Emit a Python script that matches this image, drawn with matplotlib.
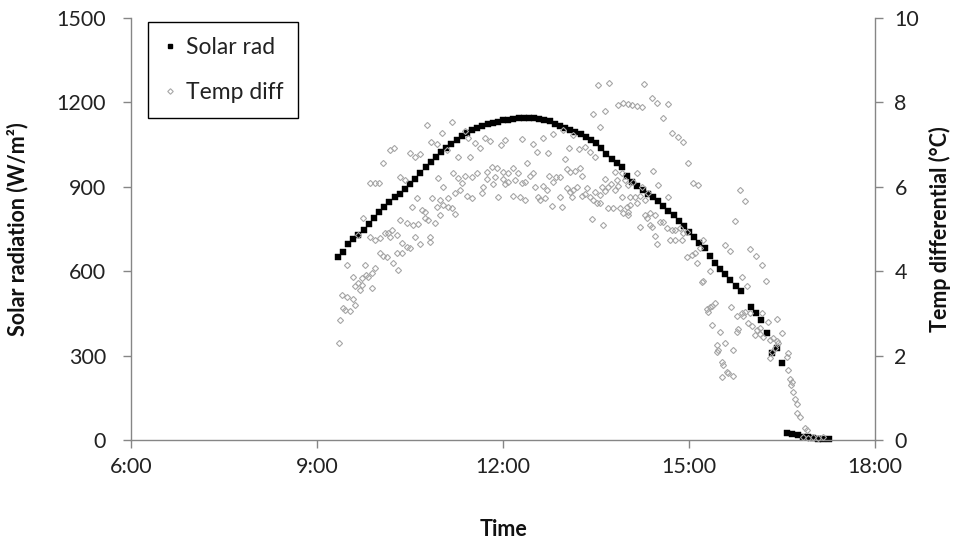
import matplotlib
matplotlib.use("Agg")
import matplotlib.pyplot as plt
from matplotlib.lines import Line2D

plt.rcParams['font.family'] = ['Lato', 'DejaVu Sans']

# ---------------- data ----------------
x_ticks = [6, 9, 12, 15, 18]
x_tick_labels = ["6:00", "9:00", "12:00", "15:00", "18:00"]
left_ticks = [0, 300, 600, 900, 1200, 1500]
right_ticks = [0, 2, 4, 6, 8, 10]

solar_time = ["9:20", "9:25", "9:30", "9:35", "9:40", "9:45", "9:50", "9:55",
              "10:00", "10:05", "10:10", "10:15", "10:20", "10:25", "10:30", "10:35",
              "10:40", "10:45", "10:50", "10:55", "11:00", "11:05", "11:10", "11:15",
              "11:20", "11:25", "11:30", "11:35", "11:40", "11:45", "11:50", "11:55",
              "12:00", "12:05", "12:10", "12:15", "12:20", "12:25", "12:30", "12:35",
              "12:40", "12:45", "12:50", "12:55", "13:00", "13:05", "13:10", "13:15",
              "13:20", "13:25", "13:30", "13:35", "13:40", "13:45", "13:50", "13:55",
              "14:00", "14:05", "14:10", "14:15", "14:20", "14:25", "14:30", "14:35",
              "14:40", "14:45", "14:50", "14:55", "15:00", "15:05", "15:10", "15:15",
              "15:20", "15:25", "15:30", "15:35", "15:40", "15:45", "15:50",
              "16:00", "16:05", "16:10", "16:15", "16:20", "16:25", "16:30",
              "16:35", "16:40", "16:45", "16:50", "16:55", "17:00", "17:05", "17:10", "17:15"]
solar_rad = [650, 670, 695, 715, 730, 745, 768, 790,
             810, 828, 845, 862, 876, 893, 910, 928,
             950, 970, 988, 1005, 1022, 1037, 1052, 1068,
             1080, 1092, 1103, 1110, 1117, 1123, 1128, 1132,
             1136, 1139, 1142, 1144, 1145, 1145, 1144, 1142,
             1139, 1133, 1125, 1116, 1110, 1103, 1095, 1087,
             1078, 1066, 1054, 1038, 1018, 1000, 986, 970,
             940, 917, 903, 889, 875, 862, 848, 832,
             815, 798, 778, 760, 740, 722, 702, 682,
             655, 630, 608, 590, 570, 548, 528,
             473, 450, 425, 380, 309, 327, 274,
             25, 20, 17, 12, 9, 7, 5, 3, 2]

temp_morning = [
    ("10:46", 7.46), ("10:11", 6.87), ("10:15", 6.92), ("10:30", 6.80), ("10:35", 6.70),
    ("10:40", 6.78), ("10:04", 6.56), ("9:51", 6.09), ("9:56", 6.09), ("10:00", 6.09),
    ("10:20", 6.23), ("10:25", 6.16), ("9:45", 5.26), ("10:37", 5.73), ("10:32", 5.52),
    ("10:42", 5.45), ("10:45", 5.26), ("10:47", 5.21), ("10:20", 5.21), ("10:27", 5.14),
    ("10:33", 5.09), ("10:38", 5.12), ("10:13", 4.98), ("10:09", 4.90), ("10:17", 4.86),
    ("9:40", 4.86), ("9:51", 4.81), ("9:56", 4.74), ("10:01", 4.79), ("10:06", 4.90),
    ("10:11", 4.81), ("10:22", 4.67), ("10:27", 4.57), ("10:30", 4.55), ("10:40", 4.64),
    ("10:35", 4.81), ("10:01", 4.43), ("10:04", 4.36), ("10:08", 4.34), ("10:17", 4.43),
    ("10:22", 4.43), ("10:14", 4.19), ("10:18", 4.03), ("9:29", 4.15), ("9:46", 4.15),
    ("9:56", 4.08), ("9:53", 3.96), ("9:49", 3.86), ("9:35", 3.86), ("9:40", 3.72),
    ("9:44", 3.84), ("9:47", 3.91), ("9:44", 3.67), ("9:37", 3.65), ("9:42", 3.55),
    ("9:53", 3.60), ("9:24", 3.44), ("9:29", 3.39), ("9:35", 3.34), ("9:25", 3.13),
    ("9:27", 3.08), ("9:32", 3.06), ("9:37", 3.20), ("9:22", 2.84), ("9:21", 2.30),
    ("10:45", 5.40), ("10:49", 4.81), ("10:49", 4.69)]

temp_midday = [
    ("11:11", 7.54), ("11:01", 7.27), ("11:23", 7.32), ("10:50", 7.06), ("10:56", 7.01),
    ("11:26", 7.16), ("11:33", 7.04), ("11:38", 6.92), ("11:43", 7.16), ("11:47", 7.09),
    ("12:02", 7.11), ("11:58", 6.99), ("12:18", 7.13), ("11:06", 6.87), ("11:16", 6.71),
    ("11:28", 6.71), ("10:57", 6.21), ("11:02", 6.00), ("11:12", 6.33), ("11:16", 6.21),
    ("11:20", 6.09), ("11:23", 6.26), ("11:30", 6.23), ("11:35", 6.33), ("11:45", 6.35),
    ("11:49", 6.47), ("11:54", 6.45), ("12:00", 6.35), ("12:05", 6.33), ("12:10", 6.45),
    ("12:15", 6.33), ("11:45", 6.18), ("11:52", 6.23), ("12:00", 6.18), ("12:05", 6.11),
    ("12:12", 6.16), ("11:50", 6.07), ("12:02", 6.07), ("12:18", 6.09), ("11:41", 6.00),
    ("11:40", 5.85), ("11:14", 5.85), ("11:18", 5.92), ("11:25", 5.78), ("11:30", 5.73),
    ("10:51", 5.73), ("10:59", 5.69), ("11:07", 5.73), ("10:56", 5.52), ("11:02", 5.57),
    ("11:07", 5.52), ("11:11", 5.50), ("11:14", 5.36), ("11:55", 5.76), ("12:10", 5.78),
    ("12:16", 5.76), ("10:59", 5.33), ("10:54", 5.14),
    ("12:29", 7.01), ("12:33", 6.82), ("12:44", 6.80), ("12:39", 7.16), ("12:48", 7.25),
    ("12:58", 7.35), ("12:23", 6.56), ("12:29", 6.33), ("12:26", 6.26), ("12:21", 6.11),
    ("12:45", 6.26), ("12:51", 6.23), ("12:55", 6.23), ("12:48", 6.11), ("12:39", 6.02),
    ("12:43", 5.92), ("12:31", 6.00), ("12:34", 5.76), ("12:36", 5.69), ("12:41", 5.73),
    ("12:21", 5.69), ("12:55", 5.76), ("12:47", 5.55), ("12:57", 5.52)]

temp_afternoon = [
    ("13:27", 7.73), ("13:39", 7.80), ("13:34", 7.42), ("13:08", 7.23), ("13:04", 6.92),
    ("13:14", 6.90), ("13:19", 6.94), ("13:24", 6.82), ("13:29", 6.71), ("13:00", 6.66),
    ("13:02", 6.42), ("13:05", 6.35), ("13:10", 6.37), ("13:15", 6.45), ("13:16", 6.26),
    ("13:39", 6.18), ("13:50", 6.16), ("13:45", 6.07), ("13:42", 6.00), ("13:48", 5.92),
    ("13:51", 6.02), ("13:02", 5.97), ("13:05", 5.88), ("13:08", 5.92), ("13:12", 6.00),
    ("13:21", 5.97), ("13:29", 5.88), ("13:36", 6.00), ("13:34", 5.80), ("13:39", 5.90),
    ("13:07", 5.76), ("13:16", 5.78), ("13:19", 5.83), ("13:24", 5.76), ("13:27", 5.69),
    ("13:31", 5.62), ("13:34", 5.62), ("13:42", 5.50), ("13:46", 5.50), ("13:26", 5.24),
    ("13:37", 5.09), ("13:32", 8.41), ("13:43", 8.46), ("13:51", 7.94), ("13:56", 7.99),
    ("14:01", 7.96), ("14:05", 7.94), ("14:10", 7.91), ("14:15", 7.89), ("14:16", 8.44),
    ("14:24", 8.10), ("14:29", 7.99), ("14:40", 7.96), ("14:35", 7.63), ("14:44", 7.27),
    ("14:49", 7.18), ("14:54", 7.06), ("14:59", 6.56), ("14:25", 6.37), ("14:10", 6.33),
    ("14:30", 6.04), ("14:40", 5.76), ("13:48", 6.35), ("13:55", 6.33), ("13:58", 6.16),
    ("14:01", 6.04), ("14:06", 6.11), ("13:55", 5.76), ("14:03", 5.76), ("14:08", 5.76),
    ("14:13", 5.78), ("14:17", 5.69), ("14:20", 5.85), ("14:15", 6.00), ("13:53", 5.50),
    ("14:00", 5.52), ("14:03", 5.57), ("14:10", 5.62), ("13:56", 5.38), ("14:01", 5.40),
    ("14:01", 5.33), ("14:17", 5.33), ("14:22", 5.38), ("14:27", 5.33), ("14:19", 5.26),
    ("14:32", 5.17), ("14:35", 5.17), ("14:39", 5.02), ("14:44", 4.98), ("14:46", 4.98),
    ("14:51", 5.02), ("14:54", 4.90), ("14:58", 4.93), ("14:24", 5.05), ("14:22", 5.09),
    ("14:13", 5.05), ("14:27", 4.83), ("14:29", 4.64), ("14:42", 4.74), ("14:46", 4.74),
    ("14:53", 4.74), ("14:58", 4.34)]

temp_late = [
    ("15:03", 4.38), ("15:06", 4.43), ("15:08", 4.19), ("15:11", 4.55), ("15:14", 4.74),
    ("15:04", 6.09), ("15:09", 6.04), ("15:20", 4.00), ("15:13", 3.74), ("15:14", 3.77),
    ("15:17", 3.10), ("15:20", 3.15), ("15:18", 3.03), ("15:22", 2.73), ("15:49", 5.92),
    ("15:54", 5.66), ("15:45", 5.19), ("15:35", 4.62), ("15:40", 4.48), ("15:59", 4.53),
    ("16:05", 4.36), ("16:11", 4.15), ("16:15", 3.77), ("15:51", 3.86), ("15:56", 3.65),
    ("15:25", 3.25), ("15:22", 3.18), ("15:41", 3.15), ("15:46", 2.94), ("15:51", 3.01),
    ("15:54", 3.03), ("15:59", 3.01), ("15:52", 2.94), ("16:11", 3.01), ("16:16", 2.80),
    ("16:25", 2.87), ("15:57", 2.77), ("16:01", 2.70), ("16:06", 2.61), ("16:09", 2.65),
    ("15:46", 2.56), ("15:47", 2.63), ("15:30", 2.56), ("16:04", 2.49), ("16:09", 2.51),
    ("16:12", 2.44), ("16:18", 2.37), ("16:21", 2.42), ("16:30", 2.54), ("15:27", 2.25),
    ("15:28", 2.13), ("15:27", 2.09), ("15:35", 2.30), ("15:43", 2.13), ("16:25", 2.35),
    ("16:26", 2.30), ("16:18", 1.94), ("16:20", 2.09), ("16:23", 2.18), ("16:36", 2.06),
    ("16:35", 1.97), ("15:32", 1.85), ("15:33", 1.78), ("15:37", 1.61), ("15:38", 1.59),
    ("15:32", 1.49), ("15:43", 1.52), ("16:36", 1.66), ("16:38", 1.45), ("16:40", 1.37),
    ("16:39", 1.30), ("16:41", 1.14), ("16:43", 0.97), ("16:45", 0.85), ("16:45", 0.64),
    ("16:47", 0.55), ("16:52", 0.28), ("16:54", 0.24), ("16:50", 0.07), ("16:55", 0.05),
    ("17:00", 0.07), ("17:05", 0.05), ("17:10", 0.07)]


def hours(s):
    h, m = s.split(":")
    return int(h) + int(m) / 60.0


# ---------------- figure ----------------
fig = plt.figure(figsize=(9.56, 5.48), dpi=100)
ax = fig.add_axes([131 / 956, 1 - 440 / 548, (875 - 131) / 956, (440 - 18) / 548])
ax2 = ax.twinx()

axis_grey = "#868686"
tick_sz = 15.5
label_sz = 15.5
legend_sz = 16.5

ax.plot([hours(t) for t in solar_time], solar_rad, linestyle="none",
        marker="s", markersize=4.9, color="black", markeredgewidth=0.3, clip_on=False)

temp_color = "#a6a6a6"
for group in (temp_morning, temp_midday, temp_afternoon, temp_late):
    ax2.plot([hours(t) for t, _ in group], [v for _, v in group], linestyle="none",
             marker="D", markersize=3.1, markerfacecolor="none",
             markeredgecolor=temp_color, markeredgewidth=0.8, clip_on=False)

ax.set_xlim(6, 18)
ax.set_ylim(0, 1500)
ax2.set_ylim(0, 10)
ax.set_xticks(x_ticks)
ax.set_xticklabels(x_tick_labels)
ax.set_yticks(left_ticks)
ax.set_yticklabels([str(v) for v in left_ticks])
ax2.set_yticks(right_ticks)
ax2.set_yticklabels([str(v) for v in right_ticks])

for a in (ax, ax2):
    a.spines["top"].set_visible(False)
    for side in ("left", "right", "bottom"):
        a.spines[side].set_color(axis_grey)
        a.spines[side].set_linewidth(1.0)
ax.spines["right"].set_visible(False)
ax2.spines["left"].set_visible(False)
ax2.spines["bottom"].set_visible(False)

ax.tick_params(axis="y", direction="out", length=6, width=1, color=axis_grey,
               labelsize=tick_sz, pad=12, labelcolor="#222222")
ax.tick_params(axis="x", direction="out", length=6, width=1, color=axis_grey,
               labelsize=tick_sz, pad=6, labelcolor="#222222")
ax2.tick_params(axis="y", direction="out", length=6, width=1, color=axis_grey,
                labelsize=tick_sz, pad=8, labelcolor="#222222")

fig.text(18 / 956, 1 - 229 / 548, "Solar radiation (W/m²)", rotation=90,
         ha="center", va="center", fontsize=label_sz, fontweight="bold", color="#111111")
fig.text(940 / 956, 1 - 229 / 548, "Temp differential (°C)", rotation=90,
         ha="center", va="center", fontsize=label_sz, fontweight="bold", color="#111111")
fig.text(503 / 956, 1 - 530 / 548, "Time", ha="center", va="center",
         fontsize=label_sz, fontweight="bold", color="#111111")

handles = [
    Line2D([], [], linestyle="none", marker="s", markersize=3.2, color="black"),
    Line2D([], [], linestyle="none", marker="D", markersize=2.8, markerfacecolor="none",
           markeredgecolor=temp_color, markeredgewidth=0.8),
]
leg = fig.legend(handles, ["Solar rad", "Temp diff"], loc="upper left",
                 bbox_to_anchor=(148 / 956, 1 - 22 / 548), bbox_transform=fig.transFigure,
                 fancybox=False, edgecolor="black", framealpha=1, fontsize=legend_sz,
                 borderpad=0.65, labelspacing=1.05, handlelength=0.6, handletextpad=0.4,
                 borderaxespad=0)
leg.get_frame().set_linewidth(1.0)
for txt in leg.get_texts():
    txt.set_color("#222222")

fig.savefig("out.png", dpi=100)
